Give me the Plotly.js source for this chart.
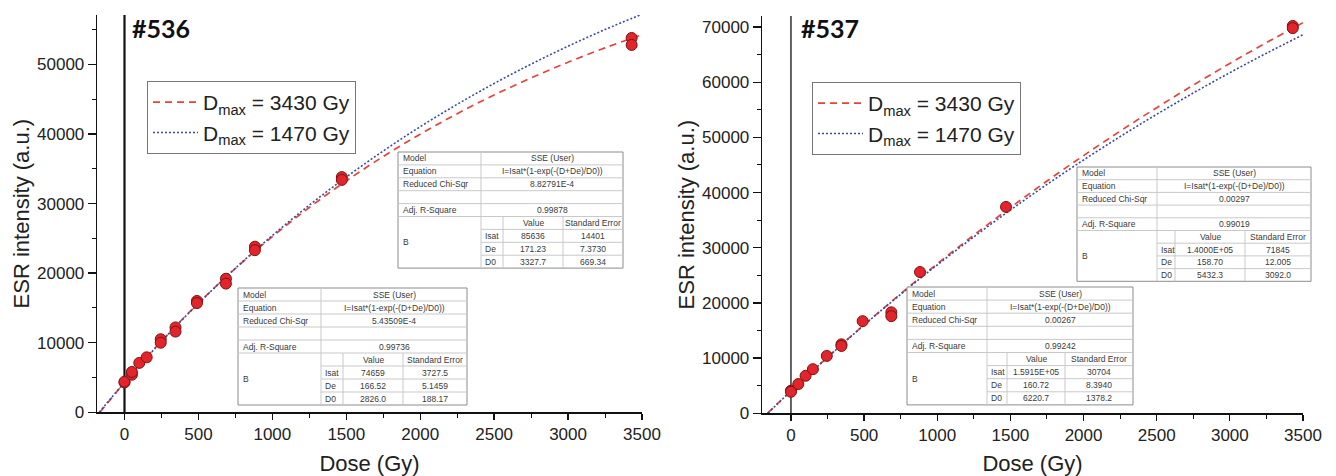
<!DOCTYPE html>
<html>
<head>
<meta charset="utf-8">
<script src="https://cdn.plot.ly/plotly-3.0.1.min.js"></script>
<style>html,body{margin:0;padding:0;background:#fff;}#chart{width:1336px;height:476px;}</style>
</head>
<body>
<div id="chart"></div>
<script>
// ---------------- DATA ----------------
const legendNames = ['D<sub>max</sub> = 3430 Gy', 'D<sub>max</sub> = 1470 Gy'];
const panelTitles = ['#536', '#537'];

// measured points, sample #536
const dose536 = [0, 0, 50, 50, 100, 150, 245, 245, 345, 345, 490, 490, 686, 686, 882, 882, 1470, 1470, 3430, 3430];
const esr536  = [4300, 4400, 5400, 5800, 7100, 7900, 10500, 10000, 12200, 11600, 16000, 15700, 19200, 18500, 23800, 23300, 33800, 33400, 53800, 52800];

// measured points, sample #537
const dose537 = [0, 0, 50, 100, 150, 245, 345, 345, 490, 686, 686, 882, 1470, 3430, 3430];
const esr537  = [4100, 3900, 5300, 6800, 8000, 10400, 12500, 12200, 16700, 18300, 17600, 25600, 37400, 70200, 69800];

// curves
const curveDose = [0, 250, 500, 750, 1000, 1250, 1500, 1750, 2000, 2250, 2500, 2750, 3000, 3250, 3500];
const c536_3430_x0 = -166, c536_1470_x0 = -171, c537_3430_x0 = -161, c537_1470_x0 = -159;
const c536_3430 = [4272, 10231, 15688, 20680, 25247, 29433, 33263, 36768, 39973, 42912, 45600, 48060, 50312, 52374, 54261];
const c536_1470 = [4295, 10182, 15646, 20707, 25408, 29767, 33809, 37560, 41045, 44265, 47263, 50037, 52615, 55004, 57222];
const c537_3430 = [4060, 10168, 16038, 21675, 27091, 32293, 37290, 42090, 46703, 51132, 55388, 59474, 63401, 67172, 70796];
const c537_1470 = [4031, 10146, 15988, 21566, 26893, 31980, 36838, 41478, 45910, 50142, 54184, 58044, 61730, 65251, 68608];

// fit tables
const rowLabels = ['Model', 'Equation', 'Reduced Chi-Sqr', 'Adj. R-Square'];
const paramNames = ['Isat', 'De', 'D0'];
const colHeads = ['Value', 'Standard Error'];
const modelName = 'SSE (User)';
const equation = 'I=Isat*(1-exp(-(D+De)/D0))';
const tA_stats = ['8.82791E-4', '0.99878'];
const tA_value = ['85636', '171.23', '3327.7'];
const tA_err   = ['14401', '7.3730', '669.34'];
const tB_stats = ['5.43509E-4', '0.99736'];
const tB_value = ['74659', '166.52', '2826.0'];
const tB_err   = ['3727.5', '5.1459', '188.17'];
const tC_stats = ['0.00297', '0.99019'];
const tC_value = ['1.4000E+05', '158.70', '5432.3'];
const tC_err   = ['71845', '12.005', '3092.0'];
const tD_stats = ['0.00267', '0.99242'];
const tD_value = ['1.5915E+05', '160.72', '6220.7'];
const tD_err   = ['30704', '8.3940', '1378.2'];

// ---------------- LAYOUT HELPERS ----------------
const W = 1336, H = 476;
const px = x => x / W;
const py = y => 1 - y / H;
const FONT = 'Liberation Sans, Arial, sans-serif';
const RED = '#e5443a', BLUE = '#3a4aa0';

const shapes = [];
const annotations = [];

function addTable(geo, stats, value, err) {
  const c = [geo.x];
  geo.w.forEach(w => c.push(c[c.length - 1] + w));
  const h = geo.h, y0 = geo.y, yb = y0 + 9 * h;
  const gl = {color: '#c9c9c9', width: 1};
  shapes.push({type: 'rect', xref: 'paper', yref: 'paper', x0: px(c[0]), x1: px(c[4]), y0: py(y0), y1: py(yb),
    fillcolor: 'white', line: {color: '#8c8c8c', width: 1}, layer: 'above'});
  for (let i = 1; i <= 8; i++) {
    const xs = i <= 5 ? c[0] : c[1];
    shapes.push({type: 'line', xref: 'paper', yref: 'paper', x0: px(xs), x1: px(c[4]), y0: py(y0 + i * h), y1: py(y0 + i * h), line: gl, layer: 'above'});
  }
  shapes.push({type: 'line', xref: 'paper', yref: 'paper', x0: px(c[1]), x1: px(c[1]), y0: py(y0), y1: py(yb), line: gl, layer: 'above'});
  [c[2], c[3]].forEach(xx => shapes.push({type: 'line', xref: 'paper', yref: 'paper', x0: px(xx), x1: px(xx), y0: py(y0 + 5 * h), y1: py(yb), line: gl, layer: 'above'}));
  const tf = {family: FONT, size: 8.5, color: '#3a3a3a'};
  const txt = (t, x, row, anchor) => annotations.push({text: t, xref: 'paper', yref: 'paper', x: px(x), y: py(y0 + (row + 0.5) * h),
    xanchor: anchor, yanchor: 'middle', showarrow: false, font: tf, borderpad: 0});
  const labelRows = [0, 1, 2, 4];
  const merged = [modelName, equation, stats[0], stats[1]];
  labelRows.forEach((r, i) => {
    txt(rowLabels[i], c[0] + 4, r, 'left');
    txt(merged[i], (c[1] + c[4]) / 2, r, 'center');
  });
  txt(colHeads[0], (c[2] + c[3]) / 2, 5, 'center');
  txt(colHeads[1], (c[3] + c[4]) / 2, 5, 'center');
  txt('B', c[0] + 4, 6.5, 'left');
  paramNames.forEach((p, i) => {
    txt(p, c[1] + 3, 6 + i, 'left');
    txt(value[i], (c[2] + c[3]) / 2, 6 + i, 'center');
    txt(err[i], (c[3] + c[4]) / 2, 6 + i, 'center');
  });
}

addTable({x: 398, y: 152, w: [83, 22, 60, 60], h: 12.9}, tA_stats, tA_value, tA_err);
addTable({x: 238, y: 288, w: [83, 22, 60, 64], h: 13.0}, tB_stats, tB_value, tB_err);
addTable({x: 1077, y: 167, w: [80, 18, 70, 66], h: 12.7}, tC_stats, tC_value, tC_err);
addTable({x: 907, y: 287, w: [80, 20, 58, 68], h: 13.1}, tD_stats, tD_value, tD_err);

// vertical line at zero dose
shapes.push({type: 'line', xref: 'x', yref: 'y domain', x0: 0, x1: 0, y0: 0, y1: 1, line: {color: '#111', width: 2.2}, layer: 'below'});
shapes.push({type: 'line', xref: 'x2', yref: 'y2 domain', x0: 0, x1: 0, y0: 0, y1: 1, line: {color: '#111', width: 1.3}, layer: 'below'});

// panel labels
annotations.push({text: '<b>' + panelTitles[0] + '</b>', xref: 'paper', yref: 'paper', x: px(130), y: py(28), xanchor: 'left', yanchor: 'middle',
  showarrow: false, font: {family: 'Lato, Open Sans, sans-serif', size: 25, color: '#111'}});
annotations.push({text: '<b>' + panelTitles[1] + '</b>', xref: 'paper', yref: 'paper', x: px(799), y: py(28), xanchor: 'left', yanchor: 'middle',
  showarrow: false, font: {family: 'Lato, Open Sans, sans-serif', size: 25, color: '#111'}});

// ---------------- TRACES ----------------
const marker = {size: 11, color: '#e3242b', line: {color: '#7a1414', width: 1}};
const traces = [
  {x: [c536_3430_x0].concat(curveDose), y: [0].concat(c536_3430), xaxis: 'x', yaxis: 'y', mode: 'lines', name: legendNames[0],
   line: {color: RED, width: 1.7, dash: '7px,5px', shape: 'spline'}, legend: 'legend'},
  {x: [c536_1470_x0].concat(curveDose), y: [0].concat(c536_1470), xaxis: 'x', yaxis: 'y', mode: 'lines', name: legendNames[1],
   line: {color: BLUE, width: 1.6, dash: '2px,2px', shape: 'spline'}, legend: 'legend'},
  {x: dose536, y: esr536, xaxis: 'x', yaxis: 'y', mode: 'markers', marker: marker, showlegend: false},
  {x: [c537_3430_x0].concat(curveDose), y: [0].concat(c537_3430), xaxis: 'x2', yaxis: 'y2', mode: 'lines', name: legendNames[0],
   line: {color: RED, width: 1.7, dash: '7px,5px', shape: 'spline'}, legend: 'legend2'},
  {x: [c537_1470_x0].concat(curveDose), y: [0].concat(c537_1470), xaxis: 'x2', yaxis: 'y2', mode: 'lines', name: legendNames[1],
   line: {color: BLUE, width: 1.6, dash: '2px,2px', shape: 'spline'}, legend: 'legend2'},
  {x: dose537, y: esr537, xaxis: 'x2', yaxis: 'y2', mode: 'markers', marker: marker, showlegend: false}
];

function axisBase() {
  return {showline: true, linecolor: '#111', linewidth: 1.3, ticks: 'outside', ticklen: 6, tickwidth: 1.3, tickcolor: '#111',
    showgrid: false, zeroline: false, tickformat: 'd', tickfont: {family: FONT, size: 17, color: '#222'}, fixedrange: true};
}
const xtitle = {text: 'Dose (Gy)', font: {family: FONT, size: 22, color: '#222'}, standoff: 12};
const ytitle = {text: 'ESR intensity (a.u.)', font: {family: FONT, size: 22, color: '#222'}, standoff: 1};
const xminor = {ticks: 'outside', ticklen: 4, tickwidth: 1, tickcolor: '#111', dtick: 250, tick0: 0};
const yminor = {ticks: 'outside', ticklen: 4, tickwidth: 1, tickcolor: '#111', dtick: 5000, tick0: 0};
const xa = Object.assign(axisBase(), {domain: [px(97), px(642)], range: [-186, 3500], anchor: 'y', tick0: 0, dtick: 500,
  minor: xminor, title: xtitle});
const ya = Object.assign(axisBase(), {domain: [py(412.3), py(15)], range: [0, 57100], anchor: 'x', tick0: 0, dtick: 10000,
  ticklen: 8, minor: yminor, title: ytitle});
const xa2 = Object.assign(axisBase(), {domain: [px(762), px(1303)], range: [-198, 3500], anchor: 'y2', tick0: 0, dtick: 500,
  minor: xminor, title: xtitle});
const ya2 = Object.assign(axisBase(), {domain: [py(413.3), py(16)], range: [0, 72000], anchor: 'x2', tick0: 0, dtick: 10000,
  ticklen: 8, minor: yminor, title: ytitle});

const legendStyle = {xref: 'paper', yref: 'paper', xanchor: 'left', yanchor: 'top', bordercolor: '#777', borderwidth: 1,
  bgcolor: 'white', font: {family: FONT, size: 21, color: '#222'}, itemwidth: 45, tracegroupgap: 0};

const layout = {
  width: W, height: H, margin: {l: 0, r: 0, t: 0, b: 0},
  paper_bgcolor: 'white', plot_bgcolor: 'white',
  font: {family: FONT, color: '#222'},
  showlegend: true,
  xaxis: xa, yaxis: ya, xaxis2: xa2, yaxis2: ya2,
  legend: Object.assign({x: px(147), y: py(81)}, legendStyle),
  legend2: Object.assign({x: px(812), y: py(82)}, legendStyle),
  shapes: shapes, annotations: annotations
};

Plotly.newPlot('chart', traces, layout, {displayModeBar: false, staticPlot: true});
</script>
</body>
</html>
